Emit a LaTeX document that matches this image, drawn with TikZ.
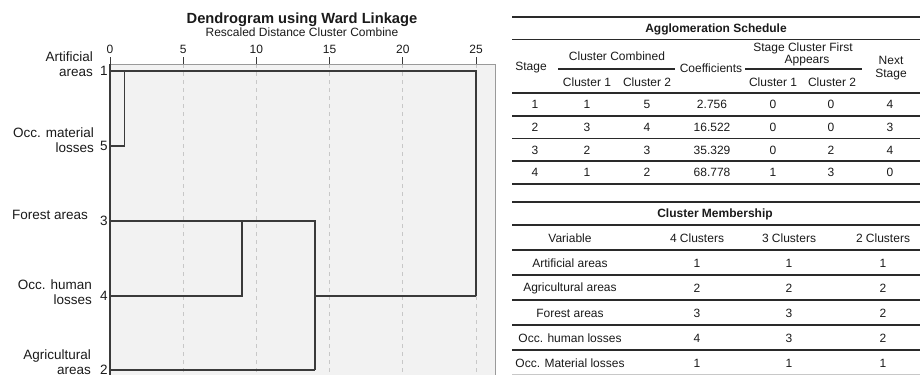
\documentclass[tikz,border=0pt]{standalone}
\usepackage{fontspec}
\setmainfont{Liberation Sans}
\definecolor{boxfill}{HTML}{F2F2F2}
\definecolor{dendro}{HTML}{3A3A3A}
\definecolor{gridc}{HTML}{C8C8C8}
\definecolor{framec}{HTML}{9A9A9A}
\definecolor{rulec}{HTML}{2A2A2A}
\definecolor{txt}{HTML}{1A1A1A}
\begin{document}
\begin{tikzpicture}[x=1pt,y=-1pt,
  every node/.style={inner sep=0pt,text=txt},
  leaflab/.style={font=\fontsize{13.5}{15}\selectfont,align=right,anchor=east},
  leafnum/.style={font=\fontsize{13.5}{15}\selectfont,anchor=center},
  ticklab/.style={font=\fontsize{12}{14}\selectfont,anchor=center},
  dline/.style={draw=dendro,line width=1.4pt},
  gridline/.style={draw=gridc,dashed,dash pattern=on 4pt off 4pt,line width=0.7pt},
  tcell/.style={font=\fontsize{12}{14}\selectfont,anchor=center},
  tbold/.style={font=\fontsize{12}{14}\selectfont\bfseries,anchor=center},
  thick rule/.style={draw=rulec,line width=1.8pt},
  row rule/.style={draw=rulec,line width=1.3pt},
  sub rule/.style={draw=rulec,line width=1.1pt}]
\useasboundingbox (0,0) rectangle (923,375);

% ---------------- Dendrogram ----------------
\node[font=\fontsize{14.7}{16}\selectfont\bfseries] (title) at (302,20) {Dendrogram using Ward Linkage};
\node[font=\fontsize{12}{14}\selectfont] (subtitle) at (302,32) {Rescaled Distance Cluster Combine};

\fill[boxfill] (110,64) rectangle (495,375);
\foreach \v/\xx in {5/183.2,10/256.4,15/329.6,20/402.8,25/476}{
  \draw[gridline] (\xx,64) -- (\xx,375);
}
\draw[framec,line width=1pt] (110,64) -- (495,64) -- (495,375);
\foreach \v/\xx in {0/110,5/183.2,10/256.4,15/329.6,20/402.8,25/476}{
  \draw[dendro,line width=0.9pt] (\xx,57) -- (\xx,64);
  \node[ticklab] (t\v) at (\xx,49) {\v};
}
\draw[dendro,line width=1.2pt] (110,64) -- (110,375);

% leaf labels
\node[leaflab] (l1) at (93,64.5) {Artificial\\areas};
\node[leaflab] (l5) at (94,140) {Occ. material\\losses};
\node[leaflab] (l3) at (88,215) {Forest areas};
\node[leaflab] (l4) at (92,292.5) {Occ. human\\losses};
\node[leaflab] (l2) at (91,362) {Agricultural\\areas};
\node[leafnum] (n1) at (104,71) {1};
\node[leafnum] (n5) at (104,146) {5};
\node[leafnum] (n3) at (104,221) {3};
\node[leafnum] (n4) at (104,296) {4};
\node[leafnum] (n2) at (104,370) {2};

% leaf and merge coordinates
\coordinate (p1) at (110,71);
\coordinate (p5) at (110,146);
\coordinate (p3) at (110,221);
\coordinate (p4) at (110,296);
\coordinate (p2) at (110,370);
\coordinate (m15a) at (124.6,71);
\coordinate (m15b) at (124.6,146);
\coordinate (m34a) at (241.8,221);
\coordinate (m34b) at (241.8,296);
\coordinate (m234a) at (315,221);
\coordinate (m234b) at (315,296);
\coordinate (m234c) at (315,370);
\coordinate (mAa) at (476,71);
\coordinate (mAb) at (476,296);

\draw[dline] (p1) -- (mAa) -- (mAb);
\draw[dline] (p5) -- (m15b) -- (m15a);
\draw[dline] (p3) -- (m234a) -- (m234c);
\draw[dline] (p4) -- (m34b) -- (m34a);
\draw[dline] (m234b) -- (mAb);
\draw[dline] (p2) -- (m234c);

% ---------------- Agglomeration Schedule ----------------
\draw[thick rule] (512,17) -- (920,17);
\node[tbold] (aTitle) at (716,29) {Agglomeration Schedule};
\draw[thick rule] (512,39.5) -- (920,39.5);
\node[tcell] (hStage) at (531,68) {Stage};
\node[tcell] (hCC) at (617,56) {Cluster Combined};
\draw[sub rule] (558,69) -- (675,69);
\node[tcell] (hC1) at (587,82) {Cluster 1};
\node[tcell] (hC2) at (647,82) {Cluster 2};
\node[tcell] (hCoef) at (711,68) {Coefficients};
\node[tcell] (hSCF) at (803,48) {Stage Cluster First};
\node[tcell] (hApp) at (807,61) {Appears};
\draw[sub rule] (745,69) -- (862,69);
\node[tcell] (hS1) at (773,82) {Cluster 1};
\node[tcell] (hS2) at (832,82) {Cluster 2};
\node[tcell] (hNext) at (891,60) {Next};
\node[tcell] (hNS) at (891,75) {Stage};
\draw[thick rule] (512,93) -- (920,93);

\foreach \r/\yy/\a/\b/\c/\d/\e/\f/\g in {
  1/104/1/1/5/2.756/0/0/4,
  2/127/2/3/4/16.522/0/0/3,
  3/150/3/2/3/35.329/0/2/4,
  4/172.5/4/1/2/68.778/1/3/0}{
  \node[tcell] (r\r a) at (535,\yy) {\a};
  \node[tcell] (r\r b) at (587,\yy) {\b};
  \node[tcell] (r\r c) at (647,\yy) {\c};
  \node[tcell] (r\r d) at (712,\yy) {\d};
  \node[tcell] (r\r e) at (773,\yy) {\e};
  \node[tcell] (r\r f) at (831,\yy) {\f};
  \node[tcell] (r\r g) at (890,\yy) {\g};
}
\foreach \yy in {116,138.5,161}{
  \draw[row rule] (512,\yy) -- (920,\yy);
}
\draw[thick rule] (512,184) -- (920,184);

% ---------------- Cluster Membership ----------------
\draw[thick rule] (512,202) -- (920,202);
\node[tbold] (cTitle) at (715,214.5) {Cluster Membership};
\draw[thick rule] (512,225) -- (920,225);
\node[tcell] (cV) at (570,238) {Variable};
\node[tcell] (c4) at (697,238) {4 Clusters};
\node[tcell] (c3) at (789,238) {3 Clusters};
\node[tcell] (c2) at (883,238) {2 Clusters};
\draw[row rule] (512,250) -- (920,250);
\foreach \r/\yy/\nm/\a/\b/\c in {
  1/263/Artificial areas/1/1/1,
  2/288/Agricultural areas/2/2/2,
  3/313/Forest areas/3/3/2,
  4/338/Occ. human losses/4/3/2,
  5/363/Occ. Material losses/1/1/1}{
  \node[tcell] (m\r v) at (570,\yy) {\nm};
  \node[tcell] (m\r a) at (697,\yy) {\a};
  \node[tcell] (m\r b) at (789,\yy) {\b};
  \node[tcell] (m\r c) at (883,\yy) {\c};
}
\foreach \yy in {275,300,325,350}{
  \draw[row rule] (512,\yy) -- (920,\yy);
}
\draw[draw=gridc,line width=1pt] (512,374) -- (920,374);
\end{tikzpicture}
\end{document}
